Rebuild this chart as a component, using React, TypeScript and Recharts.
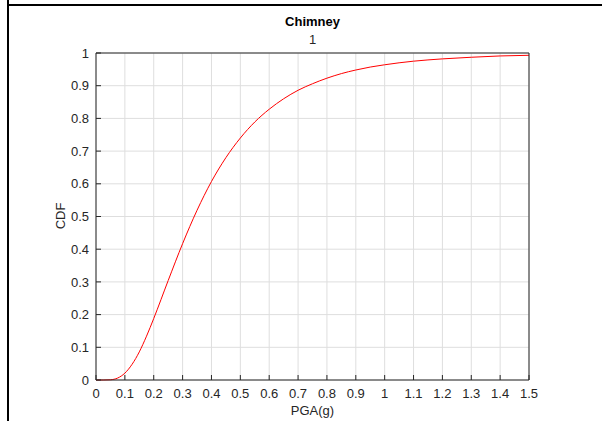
import { LineChart, Line, XAxis, YAxis, CartesianGrid } from "recharts";

// PGA (g) sample points and the CDF values
const PGA = [
    0, 0.025, 0.05, 0.075, 0.1, 0.125, 0.15, 0.175, 0.2, 0.25, 0.3, 0.35, 0.4,
    0.45, 0.5, 0.55, 0.6, 0.65, 0.7, 0.75, 0.8, 0.85, 0.9, 0.95, 1.0, 1.1, 1.2,
    1.3, 1.4, 1.5,
];
const CDF = [
    0, 0, 0.0007, 0.006, 0.021, 0.048, 0.086, 0.134, 0.188, 0.304, 0.417, 0.519,
    0.607, 0.68, 0.74, 0.789, 0.828, 0.86, 0.886, 0.906, 0.923, 0.937, 0.948,
    0.957, 0.964, 0.975, 0.982, 0.987, 0.991, 0.993,
];

const X_TICKS = [0, 0.1, 0.2, 0.3, 0.4, 0.5, 0.6, 0.7, 0.8, 0.9, 1, 1.1, 1.2, 1.3, 1.4, 1.5];
const Y_TICKS = [0, 0.1, 0.2, 0.3, 0.4, 0.5, 0.6, 0.7, 0.8, 0.9, 1];

const data = PGA.map((x, i) => ({ pga: x, cdf: CDF[i] }));

const AXIS = "#262626";
const FONT = "Arial, 'Liberation Sans', Helvetica, sans-serif";
const tickStyle = { fill: AXIS, fontSize: 13, fontFamily: FONT };

export default function App() {
    return (
        <div
            style={{
                position: "fixed",
                left: 0,
                top: 0,
                width: 602,
                height: 421,
                background: "#fff",
                overflow: "hidden",
                fontFamily: FONT,
                color: AXIS,
            }}
        >
            {/* figure title, mostly cut off at the top edge */}
            <div
                style={{
                    position: "absolute",
                    right: 134,
                    top: -16,
                    fontSize: 15,
                    lineHeight: "16px",
                    fontWeight: "bold",
                    color: "#000",
                    whiteSpace: "nowrap",
                }}
            >
                Cumulative Distribution (Chimney) (Category)
            </div>
            {/* figure frame */}
            <div style={{ position: "absolute", left: 7, top: 4, width: 595, height: 2, background: "#000" }} />
            <div style={{ position: "absolute", left: 7, top: 0, width: 2, height: 421, background: "#000" }} />

            <div style={{ position: "absolute", left: 0, width: 625, top: 14, textAlign: "center", fontSize: 13, fontWeight: "bold", color: "#000" }}>
                Chimney
            </div>
            <div style={{ position: "absolute", left: 0, width: 625, top: 32, textAlign: "center", fontSize: 13, color: AXIS }}>
                1
            </div>
            <div style={{ position: "absolute", left: 0, width: 625, top: 403, textAlign: "center", fontSize: 13, color: AXIS }}>
                PGA(g)
            </div>
            <div
                style={{
                    position: "absolute",
                    left: 60,
                    top: 216,
                    fontSize: 13,
                    color: AXIS,
                    transform: "translate(-50%, -50%) rotate(-90deg)",
                    whiteSpace: "nowrap",
                }}
            >
                CDF
            </div>

            <LineChart
                width={602}
                height={421}
                data={data}
                margin={{ top: 43, right: 63, bottom: 11, left: 56 }}
                style={{ position: "absolute", left: 0, top: 0 }}
            >
                <CartesianGrid stroke="#dedede" />
                <XAxis
                    dataKey="pga"
                    type="number"
                    domain={[0, 1.5]}
                    ticks={X_TICKS}
                    interval={0}
                    height={30}
                    stroke={AXIS}
                    tickSize={-5}
                    tickMargin={14}
                    tick={tickStyle}
                />
                <XAxis
                    xAxisId="top"
                    orientation="top"
                    type="number"
                    domain={[0, 1.5]}
                    ticks={X_TICKS}
                    interval={0}
                    height={10}
                    stroke={AXIS}
                    tickSize={-5}
                    tick={false}
                />
                <YAxis
                    type="number"
                    domain={[0, 1]}
                    ticks={Y_TICKS}
                    interval={0}
                    width={40}
                    stroke={AXIS}
                    tickSize={-5}
                    tickMargin={12}
                    tick={tickStyle}
                />
                <YAxis
                    yAxisId="right"
                    orientation="right"
                    type="number"
                    domain={[0, 1]}
                    ticks={Y_TICKS}
                    interval={0}
                    width={10}
                    stroke={AXIS}
                    tickSize={-5}
                    tick={false}
                />
                <Line
                    type="monotone"
                    dataKey="cdf"
                    stroke="#ff0000"
                    strokeWidth={1}
                    dot={false}
                    isAnimationActive={false}
                />
            </LineChart>
        </div>
    );
}
